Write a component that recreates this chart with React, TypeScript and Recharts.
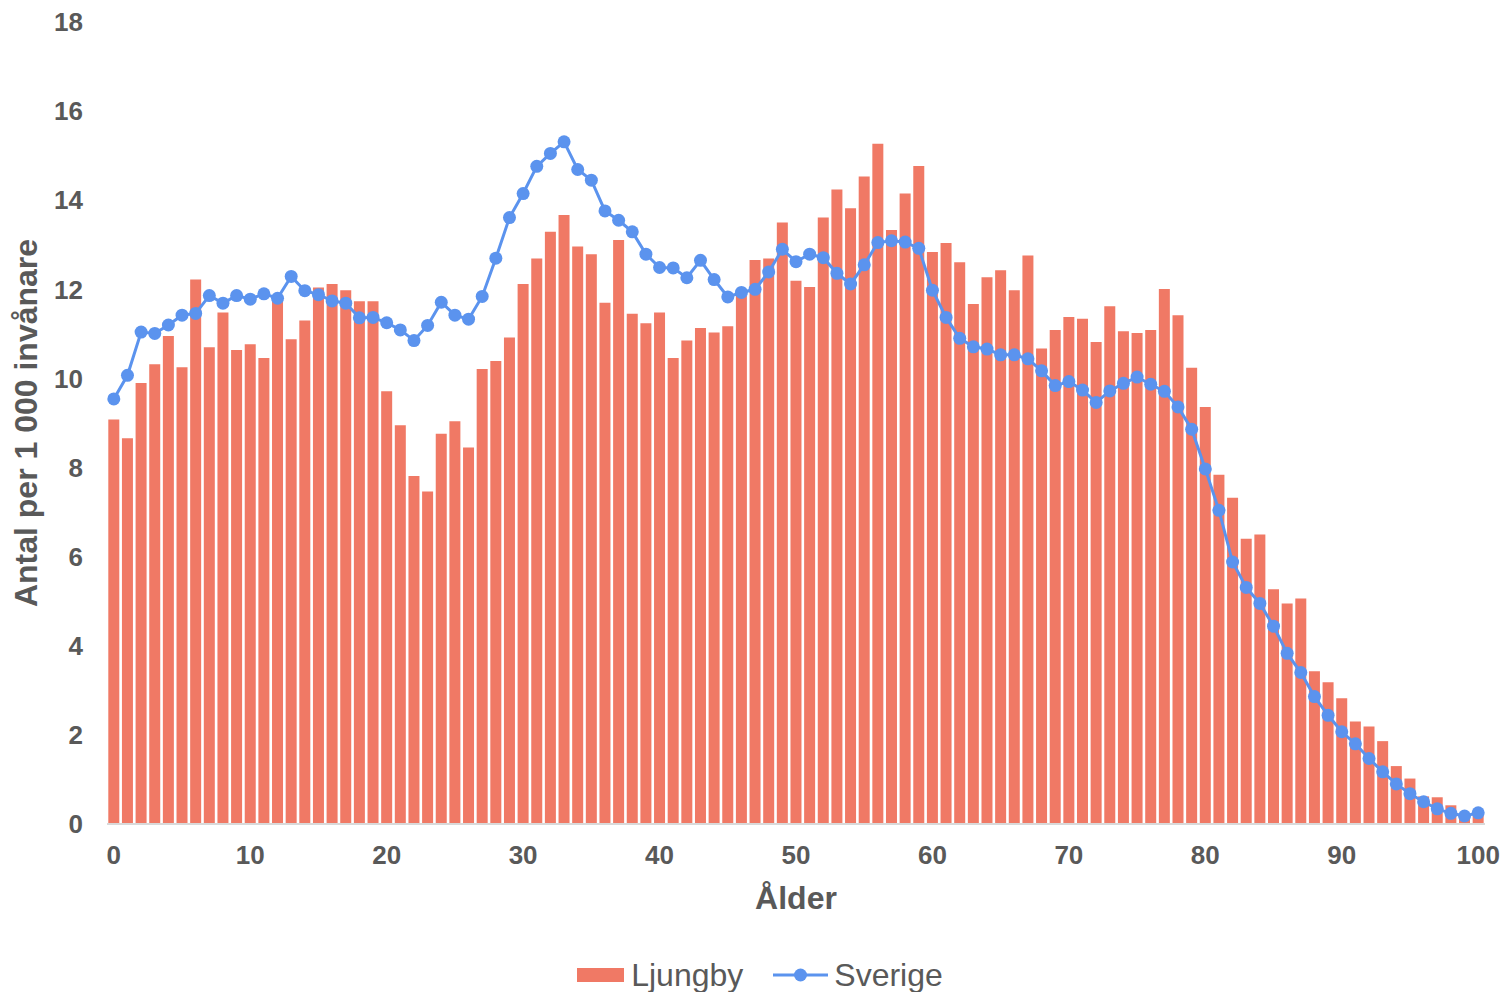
import React from "react";
import { ComposedChart, Bar, Line, XAxis, YAxis, Legend } from "recharts";

const ages: number[] = [
  0, 1, 2, 3, 4, 5, 6, 7, 8, 9, 10, 11, 12, 13, 14, 15, 16, 17, 18, 19, 20,
  21, 22, 23, 24, 25, 26, 27, 28, 29, 30, 31, 32, 33, 34, 35, 36, 37, 38, 39, 40,
  41, 42, 43, 44, 45, 46, 47, 48, 49, 50, 51, 52, 53, 54, 55, 56, 57, 58, 59, 60,
  61, 62, 63, 64, 65, 66, 67, 68, 69, 70, 71, 72, 73, 74, 75, 76, 77, 78, 79, 80,
  81, 82, 83, 84, 85, 86, 87, 88, 89, 90, 91, 92, 93, 94, 95, 96, 97, 98, 99, 100,
];

const ljungby: number[] = [
  9.08, 8.66, 9.9, 10.32, 10.95, 10.25, 12.22, 10.7, 11.48, 10.64,
  10.77, 10.46, 11.8, 10.88, 11.3, 12.04, 12.12, 11.98, 11.73, 11.73,
  9.71, 8.95, 7.81, 7.46, 8.76, 9.04, 8.45, 10.21, 10.39, 10.92,
  12.12, 12.69, 13.29, 13.67, 12.96, 12.79, 11.7, 13.11, 11.45, 11.24,
  11.48, 10.46, 10.85, 11.13, 11.03, 11.17, 11.85, 12.66, 12.69, 13.5,
  12.19, 12.05, 13.61, 14.24, 13.82, 14.53, 15.27, 13.33, 14.15, 14.77,
  12.84, 13.04, 12.61, 11.67, 12.27, 12.43, 11.98, 12.76, 10.67, 11.09,
  11.38, 11.34, 10.82, 11.62, 11.06, 11.02, 11.09, 12.01, 11.42, 10.24,
  9.36, 7.84, 7.32, 6.4, 6.5, 5.27, 4.95, 5.06, 3.43, 3.18,
  2.82, 2.3, 2.19, 1.86, 1.3, 1.02, 0.62, 0.6, 0.42, 0.2,
  0.28,
];

const sverige: number[] = [
  9.54, 10.07, 11.04, 11.01, 11.2, 11.42, 11.46, 11.86, 11.69, 11.86,
  11.78, 11.9, 11.8, 12.29, 11.97, 11.88, 11.74, 11.69, 11.36, 11.37,
  11.25, 11.09, 10.85, 11.19, 11.71, 11.42, 11.33, 11.84, 12.7, 13.61,
  14.15, 14.76, 15.05, 15.31, 14.69, 14.45, 13.76, 13.55, 13.29, 12.79,
  12.49, 12.48, 12.26, 12.65, 12.22, 11.83, 11.93, 12.0, 12.39, 12.9,
  12.62, 12.79, 12.71, 12.36, 12.12, 12.55, 13.05, 13.09, 13.06, 12.92,
  11.98, 11.37, 10.9, 10.71, 10.66, 10.53, 10.53, 10.44, 10.17, 9.84,
  9.93, 9.74, 9.46, 9.72, 9.89, 10.03, 9.87, 9.71, 9.36, 8.86,
  7.97, 7.04, 5.88, 5.31, 4.95, 4.44, 3.83, 3.4, 2.86, 2.44,
  2.07, 1.8, 1.47, 1.17, 0.9, 0.68, 0.5, 0.34, 0.24, 0.18,
  0.25,
];

const yTicks: number[] = [0, 2, 4, 6, 8, 10, 12, 14, 16, 18];

const seriesNames = { bar: "Ljungby", line: "Sverige" };
const yTitle = "Antal per 1 000 invånare";
const xTitle = "Ålder";

const data = ages.map((a, i) => ({
  age: a,
  Ljungby: ljungby[i],
  Sverige: sverige[i],
}));

const BAR_COLOR = "#F07965";
const LINE_COLOR = "#5B93EE";
const TEXT_COLOR = "#595959";
const FONT = "'Liberation Sans', Arial, Helvetica, sans-serif";

const W = 1504;
const H = 992;

const YTitle = (props: any) => {
  const vb = props.viewBox || {};
  const cy = vb.y + vb.height / 2;
  return (
    <text
      x={0}
      y={0}
      transform={`translate(37, ${cy}) rotate(-90)`}
      textAnchor="middle"
      fill={TEXT_COLOR}
      fontSize={32}
      fontWeight="bold"
      fontFamily={FONT}
    >
      {yTitle}
    </text>
  );
};

const XTitle = (props: any) => {
  const vb = props.viewBox || {};
  const cx = vb.x + vb.width / 2;
  return (
    <text
      x={cx}
      y={vb.y + 74}
      dy="0.35em"
      textAnchor="middle"
      fill={TEXT_COLOR}
      fontSize={32}
      fontWeight="bold"
      fontFamily={FONT}
    >
      {xTitle}
    </text>
  );
};

const LegendContent = () => (
  <div
    style={{
      display: "flex",
      justifyContent: "center",
      alignItems: "center",
      fontFamily: FONT,
      fontSize: 32,
      color: TEXT_COLOR,
      lineHeight: "34px",
      paddingLeft: 16,
    }}
  >
    <div style={{ display: "flex", alignItems: "center", marginRight: 30 }}>
      <div style={{ width: 47, height: 14, background: BAR_COLOR, marginRight: 7 }} />
      <span>{seriesNames.bar}</span>
    </div>
    <div style={{ display: "flex", alignItems: "center" }}>
      <svg width={55} height={16} style={{ marginRight: 6 }}>
        <line x1={0} y1={8} x2={55} y2={8} stroke={LINE_COLOR} strokeWidth={3} />
        <circle cx={27.5} cy={8} r={6.5} fill={LINE_COLOR} />
      </svg>
      <span>{seriesNames.line}</span>
    </div>
  </div>
);

export default function App() {
  return (
    <div style={{ position: "absolute", left: 0, top: 0, width: W, height: H }}>
      <style>{`html, body { overflow: hidden; margin: 0; } .recharts-surface { overflow: visible; }`}</style>
      <ComposedChart
        width={W}
        height={H}
        data={data}
        margin={{ top: 22, right: 19, left: 8, bottom: 88 }}
        barCategoryGap={1.3}
      >
        <XAxis
          dataKey="age"
          type="category"
          interval={9}
          tickLine={false}
          tickSize={0}
          tickMargin={22}
          height={80}
          axisLine={{ stroke: "#D9D9D9", strokeWidth: 2 }}
          tick={{ fill: TEXT_COLOR, fontSize: 26, fontWeight: "bold", fontFamily: FONT }}
          label={<XTitle />}
        />
        <YAxis
          type="number"
          domain={[0, 18]}
          ticks={yTicks}
          interval={0}
          width={99}
          axisLine={false}
          tickLine={false}
          tickSize={0}
          tickMargin={24}
          tick={{ fill: TEXT_COLOR, fontSize: 26, fontWeight: "bold", fontFamily: FONT }}
          label={<YTitle />}
        />
        <Legend
          layout="horizontal"
          verticalAlign="middle"
          align="center"
          wrapperStyle={{ top: 958, left: 0, width: W }}
          content={<LegendContent />}
        />
        <Bar
          dataKey="Ljungby"
          name={seriesNames.bar}
          fill={BAR_COLOR}
          isAnimationActive={false}
        />
        <Line
          dataKey="Sverige"
          name={seriesNames.line}
          type="linear"
          stroke={LINE_COLOR}
          strokeWidth={3}
          dot={{ r: 6.5, fill: LINE_COLOR, stroke: LINE_COLOR, strokeWidth: 0 }}
          activeDot={false}
          isAnimationActive={false}
        />
      </ComposedChart>
    </div>
  );
}
